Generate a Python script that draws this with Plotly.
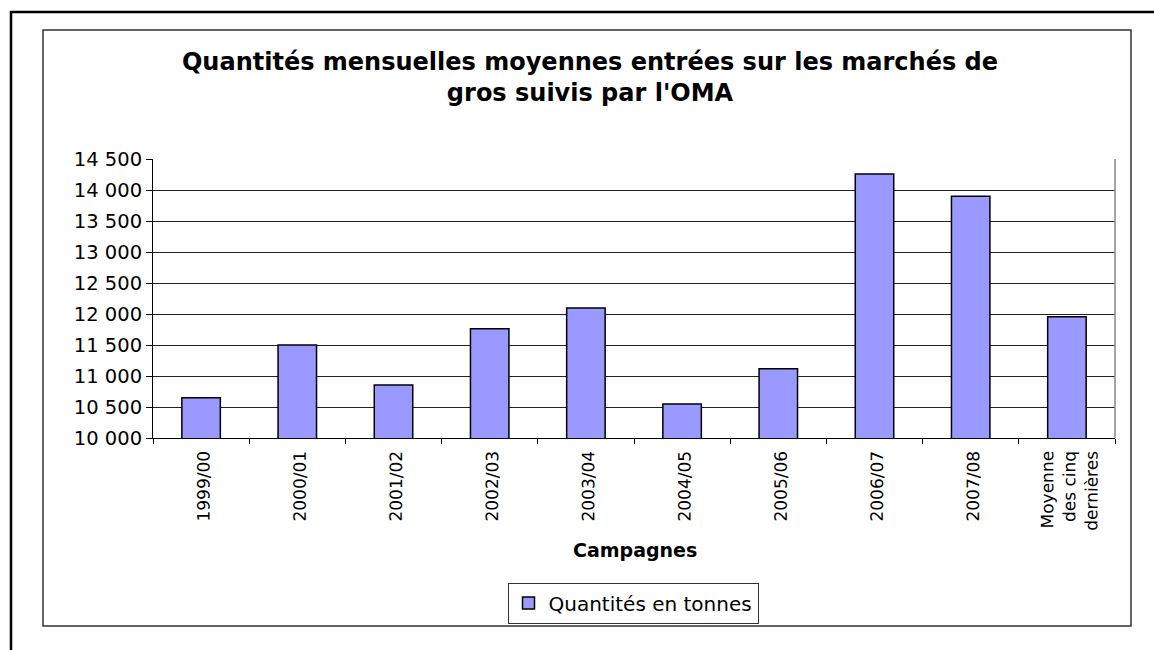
import plotly.graph_objects as go

categories = ["1999/00", "2000/01", "2001/02", "2002/03", "2003/04", "2004/05",
              "2005/06", "2006/07", "2007/08",
              "Moyenne<br>\u00a0\u00a0des cinq<br>dernières"]
values = [10650, 11500, 10855, 11763, 12097, 10548, 11118, 14258, 13898, 11957]
tick_vals = [10000, 10500, 11000, 11500, 12000, 12500, 13000, 13500, 14000, 14500]

W, H = 1154, 650
L, R, T, B = 153, 1115, 159, 438  # plot area in pixels

def px(x):
    return (x - L) / (R - L)

def py(y):
    return (B - y) / (B - T)

FONT = "DejaVu Sans, Liberation Sans, Arial, sans-serif"

fig = go.Figure()
fig.add_trace(go.Bar(
    x=categories, y=values, name="Quantités en tonnes",
    marker=dict(color="#9999FF", line=dict(color="#000000", width=1.5)),
))

fig.update_layout(
    width=W, height=H,
    margin=dict(l=L, r=W - R, t=T, b=H - B, pad=0),
    paper_bgcolor="white", plot_bgcolor="white",
    separators=". ",
    bargap=0.6,
    font=dict(family=FONT, color="black"),
    title=dict(
        text="<b>Quantités mensuelles moyennes entrées sur les marchés de<br>gros suivis par l'OMA</b>",
        x=590 / W, xanchor="center", y=1 - 70 / H, yanchor="middle",
        font=dict(family=FONT, size=24, color="black"),
    ),
    xaxis=dict(
        type="category", showline=True, linecolor="black", linewidth=1,
        ticks="outside", tickson="boundaries", ticklen=5, tickcolor="black",
        tickangle=-89.9, tickfont=dict(size=17, family=FONT),
        showgrid=False,
    ),
    yaxis=dict(
        range=[10000, 14500], tickvals=tick_vals, tickformat=",d",
        showline=True, linecolor="black", linewidth=1,
        ticks="outside", ticklen=6, tickcolor="black",
        tickfont=dict(size=19.5, family=FONT),
        showgrid=True, gridcolor="#222222", gridwidth=1,
        zeroline=False,
    ),
    showlegend=True,
    legend=dict(
        orientation="h", x=px(633), xanchor="center", y=py(603), yanchor="middle",
        bordercolor="#333333", borderwidth=1, bgcolor="white",
        font=dict(size=20, family=FONT),
    ),
    annotations=[
        dict(text="<b>Campagnes</b>", xref="paper", yref="paper",
             x=px(635), y=py(550), xanchor="center", yanchor="middle",
             showarrow=False, font=dict(size=19, family=FONT, color="black")),
    ],
    shapes=[
        dict(type="rect", xref="paper", yref="paper",
             x0=px(11), x1=px(1170), y0=py(12), y1=py(670),
             line=dict(color="black", width=2.5), layer="below"),
        dict(type="rect", xref="paper", yref="paper",
             x0=px(43), x1=px(1131), y0=py(30), y1=py(626),
             line=dict(color="#333333", width=1.5), layer="below"),
        dict(type="line", xref="paper", yref="paper",
             x0=1, x1=1, y0=0, y1=1,
             line=dict(color="#888888", width=1.5)),
    ],
)

fig.write_html("out.html", config={"displayModeBar": False},
               post_script="document.body.style.margin='0';document.body.style.overflow='hidden';")
